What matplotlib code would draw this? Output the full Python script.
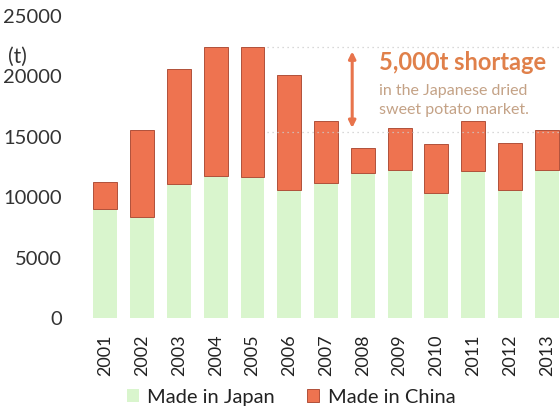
import numpy as np
import matplotlib.pyplot as plt

years = ["2001", "2002", "2003", "2004", "2005", "2006", "2007",
         "2008", "2009", "2010", "2011", "2012", "2013"]
japan = [9050, 8380, 11100, 11780, 11700, 10600, 11200,
         12000, 12250, 10350, 12200, 10600, 12250]
total = [11250, 15600, 20650, 22450, 22450, 20100, 16300,
         14100, 15750, 14430, 16330, 14500, 15550]
china = [t - j for t, j in zip(total, japan)]

plt.rcParams['font.family'] = ['Lato', 'DejaVu Sans']

green = "#d9f5cd"
red = "#ee7350"

fig = plt.figure(figsize=(5.6, 4.19), dpi=100)
ax = fig.add_axes([87 / 560, 1 - 318 / 419, 1 - 87 / 560, 302 / 419])

x = np.arange(len(years))
ax.bar(x, japan, width=0.65, color=green, label="Made in Japan")
ax.bar(x, china, width=0.65, bottom=japan, color=red,
       edgecolor="#b0503a", linewidth=0.7, label="Made in China")

ax.set_ylim(0, 25000)
ax.set_xlim(-0.5, 12.36)
ax.set_yticks([0, 5000, 10000, 15000, 20000, 25000])
ax.set_xticks(x)
ax.set_xticklabels(years, rotation=90)
ax.tick_params(axis="y", length=0, pad=18, labelsize=14.5, labelcolor="#333333")
ax.tick_params(axis="x", length=0, pad=12, labelsize=13, labelcolor="#222222")
for s in ax.spines.values():
    s.set_visible(False)

# shortage reference lines
ax.hlines([22450, 15420], 4.4, 12.4, colors="#cccccc", linestyles=(0, (1, 3)), linewidth=0.9)
ax.annotate("", xy=(6.71, 22300), xytext=(6.71, 15500),
            arrowprops=dict(arrowstyle="<|-|>", color="#e8744c", lw=2.2,
                            mutation_scale=10))
ax.text(7.45, 21150, "5,000t shortage", fontsize=17, fontweight="bold",
        color="#e0804a", va="center", ha="left")
ax.text(7.45, 18000, "in the Japanese dried\nsweet potato market.", fontsize=11.5,
        color="#c4a286", va="center", ha="left", linespacing=1.45)

fig.text(8 / 560, 1 - 57 / 419, "(t)", fontsize=15, color="#333333", va="center")

fig.legend(loc="lower center", bbox_to_anchor=(0.52, -0.012), ncol=2, frameon=False,
           fontsize=14.5, handlelength=0.6, handleheight=0.6, handletextpad=0.4,
           columnspacing=1.6, labelcolor="#222222")

fig.savefig("out.png", dpi=100)
